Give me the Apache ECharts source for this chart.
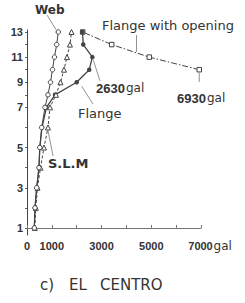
<!DOCTYPE html>
<html>
<head>
<meta charset="utf-8">
<script src="https://cdn.jsdelivr.net/npm/echarts@6/dist/echarts.min.js"></script>
<style>
  html, body { margin: 0; padding: 0; background: #fff; }
  #chart { width: 245px; height: 303px; }
</style>
</head>
<body>
<div id="chart"></div>
<script>
// floors and their elevation (lower stories are taller)
var floors = [1, 2, 3, 4, 5, 6, 7, 8, 9, 10, 11, 12, 13];
var floorLevel = [0, 4, 8, 12, 16, 20, 24, 26.5, 29, 31.5, 34, 36.5, 39];
var floorTicks = [1, 3, 5, 7, 9, 11, 13];
var galTicks = [0, 1000, 3000, 5000, 7000];

// max response acceleration (gal) per floor, floor 1 -> 13
var webAcc = [293, 322, 390, 482, 515, 591, 724, 844, 945, 1025, 1105, 1194, 1258];
var slmAcc = [314, 354, 422, 543, 683, 844, 925, 1166, 1347, 1487, 1608, 1729, 1790];
var flangeAcc = [293, 322, 390, 482, 515, 603, 784, 1126, 1998, 2504, 2630, 2263, 2231];
var openingFloors = [10, 11, 12, 13];
var openingAcc = [6930, 4920, 3407, 2240];

var ink = '#333';
var lineCol = '#444';
var font = 'DejaVu Sans';

function levelOf(f) { return floorLevel[floors.indexOf(f)]; }
function pts(acc, fl) {
  return acc.map(function (v, i) { return [v, levelOf(fl[i])]; });
}

var chart = echarts.init(document.getElementById('chart'), null, { renderer: 'svg' });
chart.setOption({
  animation: false,
  grid: { left: 27, right: 44, top: 30, bottom: 68 },
  xAxis: {
    type: 'value',
    min: 0, max: 7000, interval: 1000,
    axisLine: { lineStyle: { color: '#777', width: 1 } },
    axisTick: { show: true, inside: true, length: 3, lineStyle: { color: '#777' } },
    splitLine: { show: false },
    axisLabel: {
      customValues: galTicks,
      margin: 5,
      color: ink, fontFamily: 'Liberation Sans', fontWeight: 'bold', fontSize: 11,
      formatter: function (v) { return v === 7000 ? '{p|}7000{g|gal}' : String(v); },
      rich: {
        p: { width: 18 },
        g: { width: 18, fontSize: 12, fontWeight: 'normal', fontFamily: font, color: ink, align: 'left', padding: [0, 0, 0, 1] }
      }
    }
  },
  yAxis: {
    type: 'value',
    min: -1.4, max: 39.4,
    axisLine: { show: true, lineStyle: { color: '#444', width: 1 } },
    axisTick: { show: true, customValues: floorLevel, length: 2, lineStyle: { color: '#666' } },
    splitLine: { show: false },
    axisLabel: {
      customValues: floorTicks.map(levelOf),
      margin: 4,
      color: ink, fontFamily: 'Liberation Sans', fontWeight: 'bold', fontSize: 11,
      formatter: function (v) { return String(floors[floorLevel.indexOf(v)]); }
    }
  },
  series: [
    {
      name: 'Flange', type: 'line', z: 2,
      data: pts(flangeAcc, floors),
      symbol: 'circle', symbolSize: 4.5,
      itemStyle: { color: lineCol },
      lineStyle: { color: lineCol, width: 1.3 }
    },
    {
      name: 'Flange with opening', type: 'line', z: 1,
      data: pts(openingAcc, openingFloors),
      symbol: 'rect', symbolSize: 4.5,
      itemStyle: { color: '#fff', borderColor: lineCol, borderWidth: 1 },
      lineStyle: { color: lineCol, width: 1, type: [6, 2, 1.5, 2] }
    },
    {
      name: 'S.L.M', type: 'line', z: 3,
      data: pts(slmAcc, floors),
      symbol: 'triangle', symbolSize: 5,
      itemStyle: { color: '#fff', borderColor: lineCol, borderWidth: 1 },
      lineStyle: { color: lineCol, width: 1, type: [3, 2] }
    },
    {
      name: 'Web', type: 'line', z: 4,
      data: pts(webAcc, floors),
      symbol: 'circle', symbolSize: 4.5,
      itemStyle: { color: '#fff', borderColor: lineCol, borderWidth: 1 },
      lineStyle: { color: lineCol, width: 1 }
    }
  ]
});

// leader lines start near a data point, labels sit beside them
function at(acc, fl, f) {
  var i = fl.indexOf(f);
  return chart.convertToPixel({ gridIndex: 0 }, [acc[i], levelOf(f)]);
}
function leader(p, dx1, dy1, x2, y2) {
  return { type: 'line', silent: true,
    shape: { x1: p[0] + dx1, y1: p[1] + dy1, x2: x2, y2: y2 },
    style: { stroke: '#777', lineWidth: 0.8 } };
}
function label(text, x, y, size, weight, align) {
  return { type: 'text', silent: true, x: x, y: y,
    style: { text: text, fill: ink, font: (weight || 'normal') + ' ' + size + 'px ' + font,
      align: align || 'left', verticalAlign: 'middle' } };
}
function galLabel(num, x, y) {
  return { type: 'text', silent: true, x: x, y: y,
    style: { text: '{n|' + num + '}{g|gal}', align: 'left', verticalAlign: 'middle',
      rich: {
        n: { fontFamily: 'Liberation Sans', fontWeight: 'bold', fontSize: 13, fill: ink },
        g: { fontFamily: font, fontSize: 12, fill: ink, padding: [0, 0, 0, 1] }
      } } };
}

var webTop = at(webAcc, floors, 13);
var slm6 = at(slmAcc, floors, 6);
var fl9 = at(flangeAcc, floors, 9);
var fl11 = at(flangeAcc, floors, 11);
var op12 = at(openingAcc, openingFloors, 12);
var op11 = at(openingAcc, openingFloors, 11);
var op10 = at(openingAcc, openingFloors, 10);
var opMid = [op12[0] + (op11[0] - op12[0]) * 0.66, op12[1] + (op11[1] - op12[1]) * 0.66];

chart.setOption({
  graphic: [
    leader(webTop, -2, -2, 47, 15),
    label('Web', 35, 10, 12, 'bold'),
    leader(opMid, 0, -1, opMid[0], 35),
    label('Flange with opening', 102, 25, 13),
    leader(fl11, 1, 3, 100, 81),
    galLabel('2630', 96, 88),
    leader(op10, 0, 3, op10[0], 82),
    galLabel('6930', 177, 98),
    leader(fl9, 5, 4, 93, 104),
    label('Flange', 78, 113, 13),
    leader(slm6, 0, 3, 53, 156),
    label('S.L.M', 48, 163, 13, 'bold'),
    label('c)', 40, 285, 15),
    label('EL', 69, 285, 15),
    label('CENTRO', 100, 285, 15, 'normal')
  ]
});
</script>
</body>
</html>
